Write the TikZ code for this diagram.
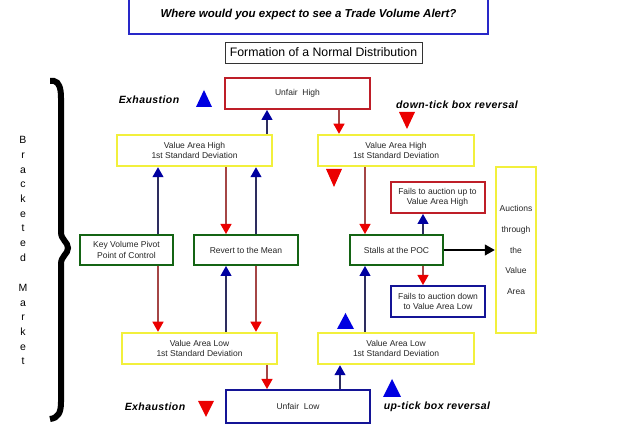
\documentclass[tikz,border=0pt]{standalone}
\usepackage{fontspec}
\setmainfont{Liberation Sans}
\newfontfamily\spacedsans[LetterSpace=4]{Liberation Sans}
\usetikzlibrary{arrows.meta}
\definecolor{boxyellow}{RGB}{242,240,60}
\definecolor{boxgreen}{RGB}{20,100,20}
\definecolor{boxred}{RGB}{190,30,40}
\definecolor{boxblue}{RGB}{20,20,150}
\definecolor{titleblue}{RGB}{40,40,200}
\definecolor{linered}{RGB}{165,70,70}
\definecolor{tipred}{RGB}{235,0,0}
\definecolor{linenavy}{RGB}{45,45,95}
\definecolor{tipnavy}{RGB}{0,0,160}
\definecolor{markblue}{RGB}{0,0,225}
\tikzset{%
  ybox/.style={draw=boxyellow,fill=white,line width=2.5pt,align=center,inner sep=0},
  gbox/.style={draw=boxgreen,fill=white,line width=2pt,align=center,inner sep=0,minimum height=30},
  rbox/.style={draw=boxred,fill=white,line width=2pt,align=center,inner sep=0},
  bbox/.style={draw=boxblue,fill=white,line width=2pt,align=center,inner sep=0},
  sdbox/.style={ybox,minimum width=155,minimum height=31},
  failbox/.style={minimum width=94,minimum height=31},
  redarr/.style={draw=linered,line width=1.3pt,-{Triangle[width=11pt,length=10pt,color=tipred]}},
  navyarr/.style={draw=linenavy,line width=1.3pt,-{Triangle[width=11pt,length=10pt,color=tipnavy]}},
  blackarr/.style={draw=black,line width=1.3pt,-{Triangle[width=11pt,length=10pt]}},
  tag/.style={font=\fontsize{10.5}{12}\spacedsans\bfseries\itshape,text=black}
}
\begin{document}
\begin{tikzpicture}[x=1pt,y=-1pt,font=\fontsize{8.5}{10.5}\selectfont,text=black!85]
    \useasboundingbox (0,0) rectangle (625,427);
    \path
      (308.5,15) node[draw=titleblue,line width=2pt,minimum width=359,minimum height=38,inner sep=0,
        text=black,font=\fontsize{11.5}{13}\selectfont\bfseries\itshape] (title) {Where would you expect to see a Trade Volume Alert?}
      (323.5,52.5) node[draw=black!80,line width=0.8pt,minimum width=197,minimum height=21,inner sep=0,
        text=black,font=\fontsize{12.3}{14}\selectfont] (form) {Formation of a Normal Distribution}
      (297.5,93.5) node[rbox,minimum width=145,minimum height=31] (uhigh) {Unfair~ High}
      (194.5,150.5) node[sdbox] (vahl) {Value Area High\\1st Standard Deviation}
      (396,150.5) node[sdbox,minimum width=156] (vahr) {Value Area High\\1st Standard Deviation}
      (126.5,250) node[gbox,minimum width=93] (kvp) {Key Volume Pivot\\Point of Control}
      (246,250) node[gbox,minimum width=104] (rtm) {Revert to the Mean}
      (396.5,250) node[gbox,minimum width=93] (poc) {Stalls at the POC}
      (437.5,197.5) node[rbox,failbox] (fup) {Fails to auction up to\\Value Area High}
      (438,301.5) node[bbox,failbox] (fdown) {Fails to auction down\\to Value Area Low}
      (516,250) node[ybox,minimum width=40,minimum height=166,font=\fontsize{8.5}{20.7}\selectfont] (auct) {Auctions\\through\\the\\Value\\Area}
      (199.5,348.5) node[sdbox] (vall) {Value Area Low\\1st Standard Deviation}
      (396,348.5) node[sdbox,minimum width=156] (valr) {Value Area Low\\1st Standard Deviation}
      (298,406.5) node[bbox,minimum width=144,minimum height=33] (ulow) {Unfair~ Low};
    \path
      (149,100) node[tag] (exhtop) {Exhaustion}
      (457,105) node[tag] (downtick) {down-tick box reversal}
      (155,407) node[tag] (exhbot) {Exhaustion}
      (437,407) node[tag] (uptick) {up-tick box reversal}
      (23,199) node[align=center,text=black,font=\fontsize{10.5}{14.7}\selectfont] (wordone) {B\\r\\a\\c\\k\\e\\t\\e\\d}
      (23,324.5) node[align=center,text=black,font=\fontsize{10.5}{14.7}\selectfont] (wordtwo) {M\\a\\r\\k\\e\\t};
    \draw[line width=6pt] (50,81) -- (54,81) .. controls (59,82) and (61,88) .. (61,98) -- (61,232)
      .. controls (61,240) and (68,242) .. (68,248) .. controls (68,254) and (61,256) .. (61,264)
      -- (61,402) .. controls (61,413) and (58,418) .. (50,419);
    \fill[markblue] (196,107) -- (212,107) -- (204,90) -- cycle;
    \fill[tipred] (399,112) -- (415,112) -- (407,129) -- cycle;
    \fill[tipred] (326,169) -- (342,169) -- (334,187) -- cycle;
    \fill[markblue] (337,329) -- (354,329) -- (345.5,313) -- cycle;
    \fill[tipred] (198,401) -- (214,401) -- (206,417) -- cycle;
    \fill[markblue] (383,397) -- (401,397) -- (392,379) -- cycle;
    \draw[navyarr] (267,0 |- vahl.north) -- (267,0 |- uhigh.south);
    \draw[redarr] (339,0 |- uhigh.south) -- (339,0 |- vahr.north);
    \draw[navyarr] (158,0 |- kvp.north) -- (158,0 |- vahl.south);
    \draw[redarr] (226,0 |- vahl.south) -- (226,0 |- rtm.north);
    \draw[navyarr] (256,0 |- rtm.north) -- (256,0 |- vahl.south);
    \draw[redarr] (158,0 |- kvp.south) -- (158,0 |- vall.north);
    \draw[navyarr] (226,0 |- vall.north) -- (226,0 |- rtm.south);
    \draw[redarr] (256,0 |- rtm.south) -- (256,0 |- vall.north);
    \draw[redarr] (267,0 |- vall.south) -- (267,0 |- ulow.north);
    \draw[navyarr] (340,0 |- ulow.north) -- (340,0 |- valr.south);
    \draw[redarr] (365,0 |- vahr.south) -- (365,0 |- poc.north);
    \draw[navyarr] (365,0 |- valr.north) -- (365,0 |- poc.south);
    \draw[navyarr] (423,0 |- poc.north) -- (423,0 |- fup.south);
    \draw[redarr] (423,0 |- poc.south) -- (423,0 |- fdown.north);
    \draw[blackarr] (poc.east) -- (auct.west);
  \end{tikzpicture}
\end{document}
